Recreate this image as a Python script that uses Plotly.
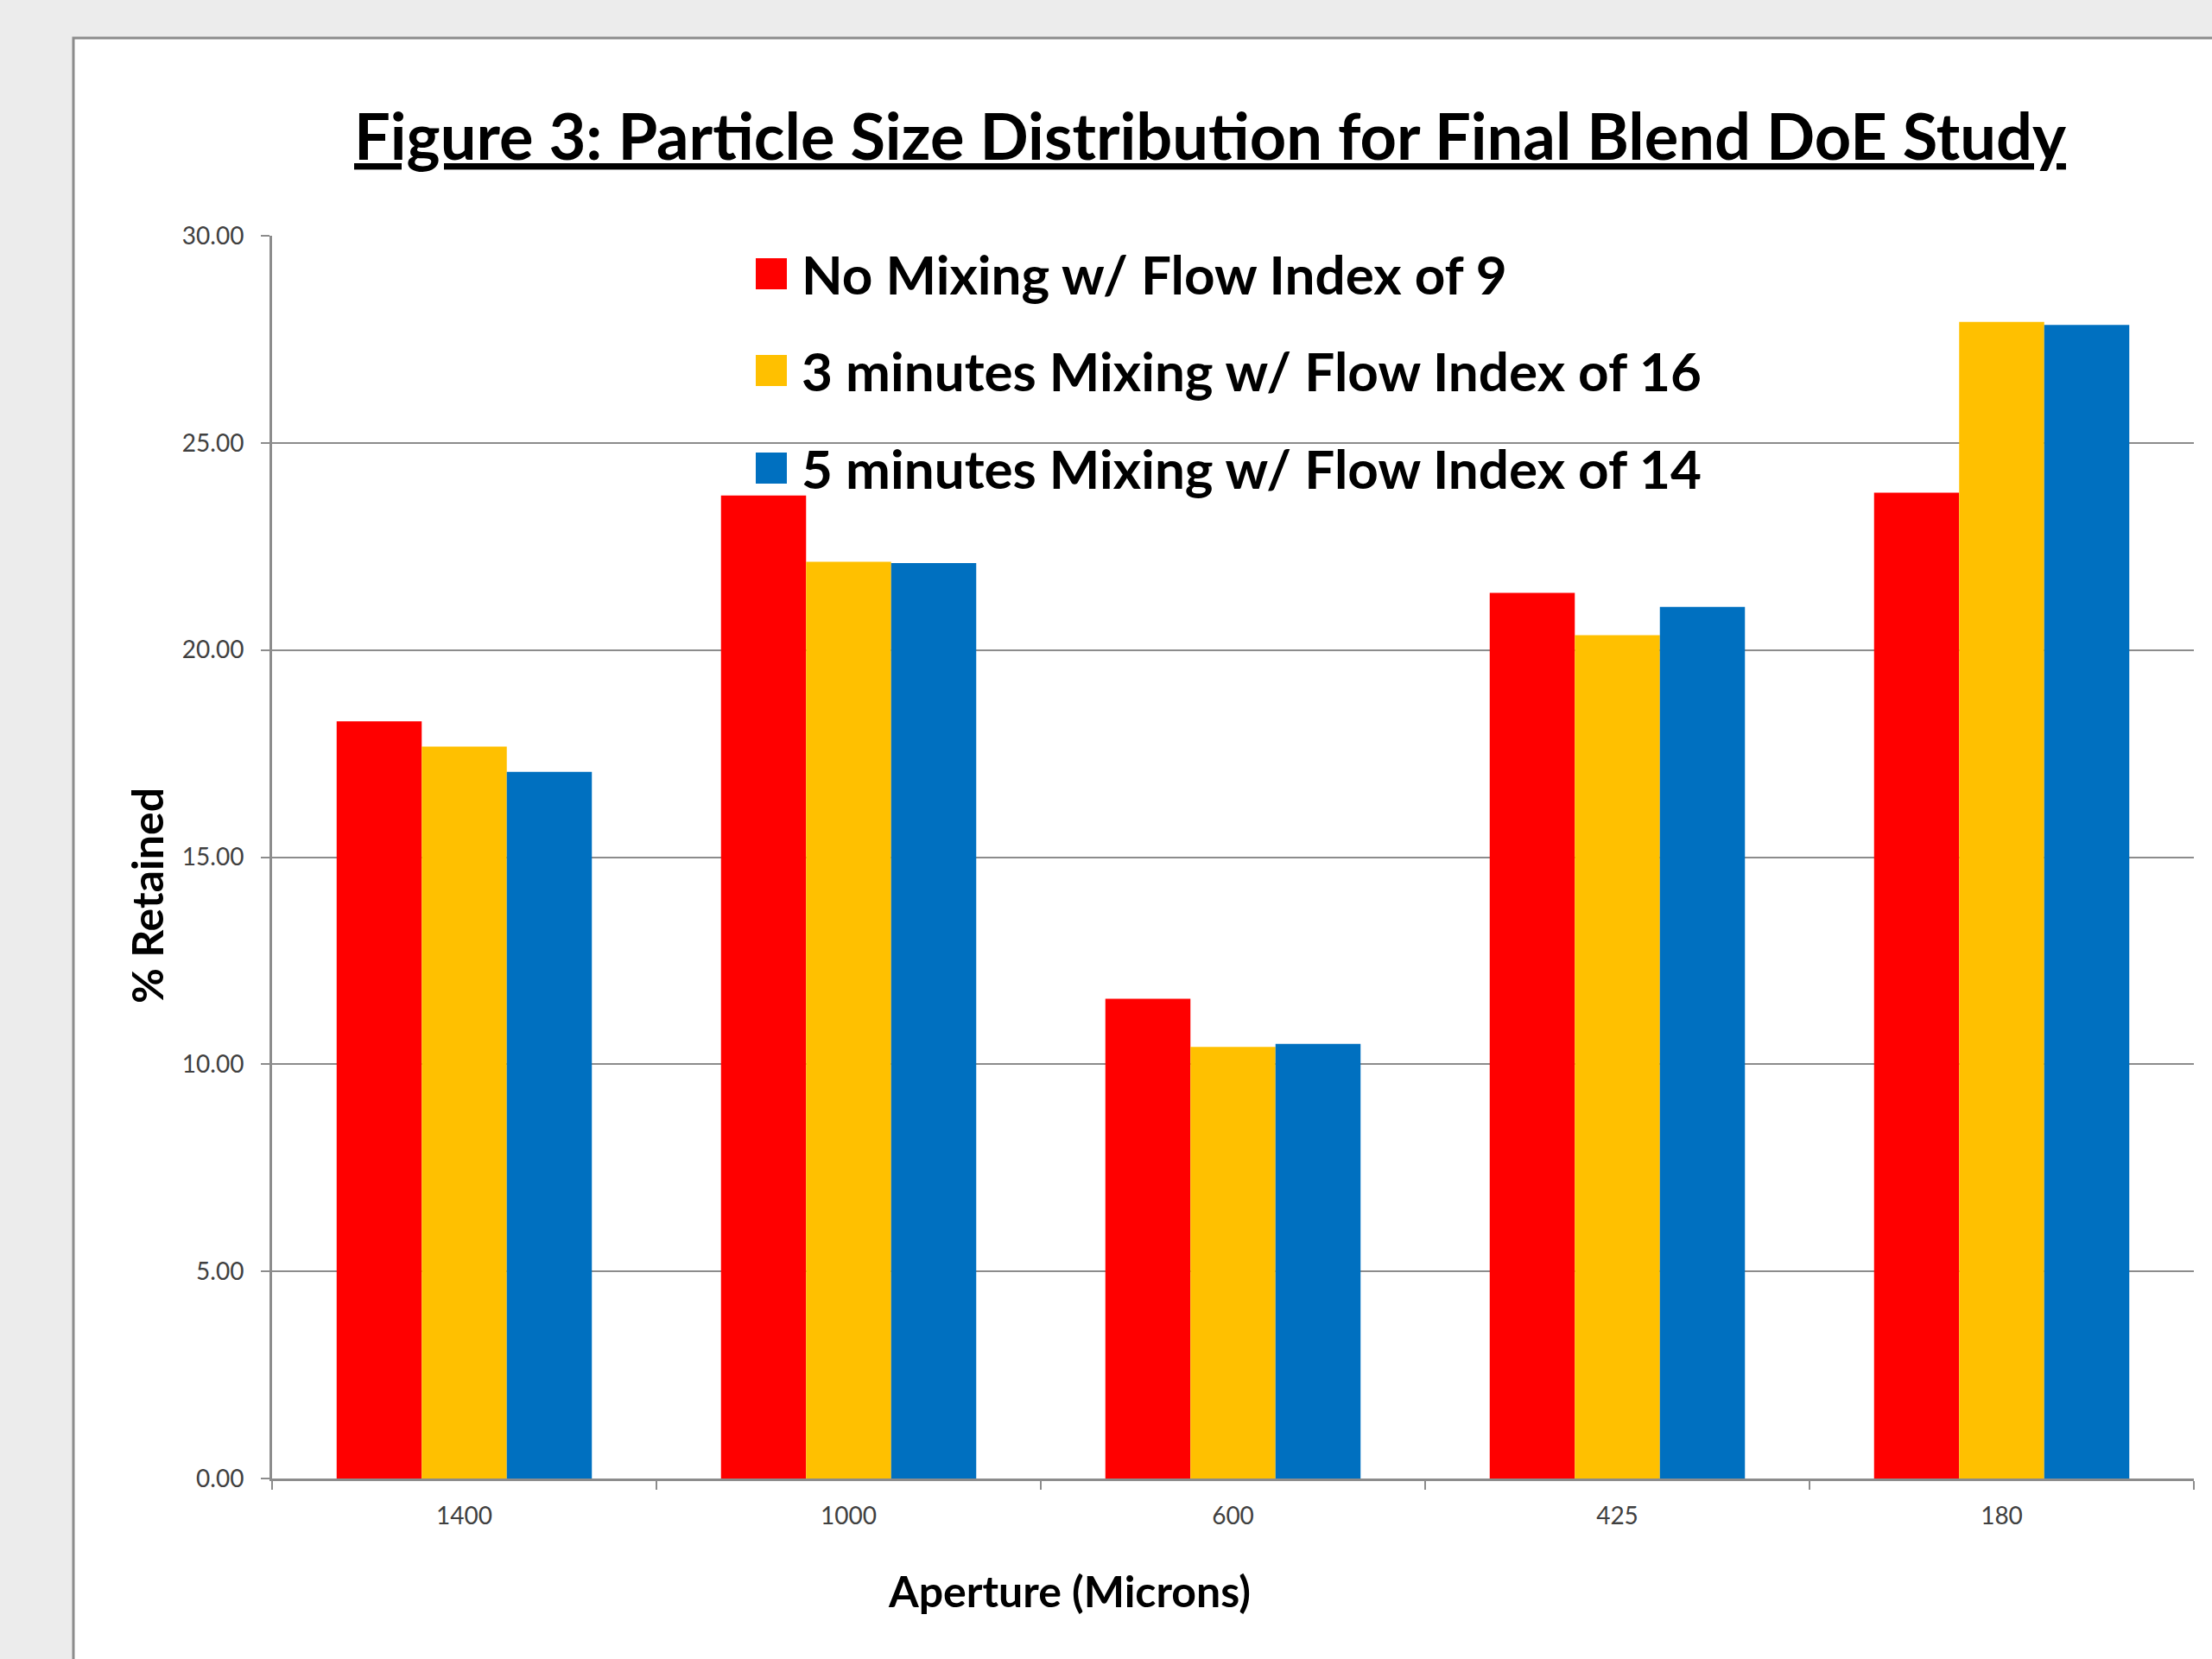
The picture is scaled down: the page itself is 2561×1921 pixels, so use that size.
import plotly.graph_objects as go

categories = ["1400", "1000", "600", "425", "180"]
series_names = [
    "No Mixing w/ Flow Index of 9",
    "3 minutes Mixing w/ Flow Index of 16",
    "5 minutes Mixing w/ Flow Index of 14",
]
no_mixing = [18.28, 23.73, 11.58, 21.38, 23.80]
mix_3min = [17.67, 22.13, 10.42, 20.36, 27.92]
mix_5min = [17.06, 22.10, 10.49, 21.04, 27.85]
series_values = [no_mixing, mix_3min, mix_5min]
colors = ["#FF0000", "#FFC000", "#0070C0"]
y_ticks = [0, 5, 10, 15, 20, 25, 30]

W, H = 2561, 1921
L, R, T, B = 315, 2540, 273, 1712
pw, ph = R - L, B - T

def px(x):
    return (x - L) / pw

def py(y):
    return (B - y) / ph

fig = go.Figure()
for name, vals, col in zip(series_names, series_values, colors):
    fig.add_trace(go.Bar(x=categories, y=vals, name=name, marker_color=col,
                         marker_line_width=0, showlegend=False))

shapes = [
    dict(type="rect", xref="paper", yref="paper", x0=px(85), x1=px(2600),
         y0=py(2000), y1=py(44), fillcolor="white",
         line=dict(color="#8C8C8C", width=3), layer="below"),
]
annotations = [
    dict(text="<b><u>Figure 3: Particle Size Distribution for Final Blend DoE Study</u></b>",
         xref="paper", yref="paper", x=px(1401), y=py(156), xanchor="center", yanchor="middle",
         showarrow=False, font=dict(family="Lato", size=74, color="black")),
    dict(text="<b>Aperture (Microns)</b>", xref="paper", yref="paper", x=px(1238), y=py(1842),
         xanchor="center", yanchor="middle", showarrow=False,
         font=dict(family="Lato", size=50, color="black")),
    dict(text="<b>% Retained</b>", xref="paper", yref="paper", x=px(170), y=py(1037),
         xanchor="center", yanchor="middle", showarrow=False, textangle=-90,
         font=dict(family="Lato", size=50, color="black")),
]
legend_rows = [317, 429, 542]
for name, col, yc in zip(series_names, colors, legend_rows):
    shapes.append(dict(type="rect", xref="paper", yref="paper",
                       x0=px(875), x1=px(911), y0=py(yc + 18), y1=py(yc - 18),
                       fillcolor=col, line=dict(width=0)))
    annotations.append(dict(text="<b>" + name + "</b>", xref="paper", yref="paper",
                            x=px(926), y=py(yc), xanchor="left", yanchor="middle",
                            showarrow=False,
                            font=dict(family="Lato", size=62, color="black")))

fig.update_layout(
    width=W, height=H,
    margin=dict(l=L, r=W - R, t=T, b=H - B, pad=0),
    paper_bgcolor="#ECECEC", plot_bgcolor="white",
    barmode="group", bargap=0.336, bargroupgap=0,
    shapes=shapes, annotations=annotations,
    xaxis=dict(type="category", categoryorder="array", categoryarray=categories,
               tickson="boundaries", ticks="outside", ticklen=10, tickwidth=2,
               tickcolor="#8C8C8C", showline=True, linecolor="#8C8C8C", linewidth=3,
               showgrid=False, ticklabelstandoff=16,
               tickfont=dict(family="Lato", size=28, color="#404040")),
    yaxis=dict(range=[0, 30], tickvals=y_ticks, tickformat=".2f",
               ticks="outside", ticklen=10, tickwidth=2, tickcolor="#8C8C8C",
               showline=True, linecolor="#8C8C8C", linewidth=3,
               showgrid=True, gridcolor="#8C8C8C", gridwidth=2, zeroline=False,
               ticklabelstandoff=14,
               tickfont=dict(family="Lato", size=28, color="#404040")),
    showlegend=False,
)

fig.write_html("out.html")
